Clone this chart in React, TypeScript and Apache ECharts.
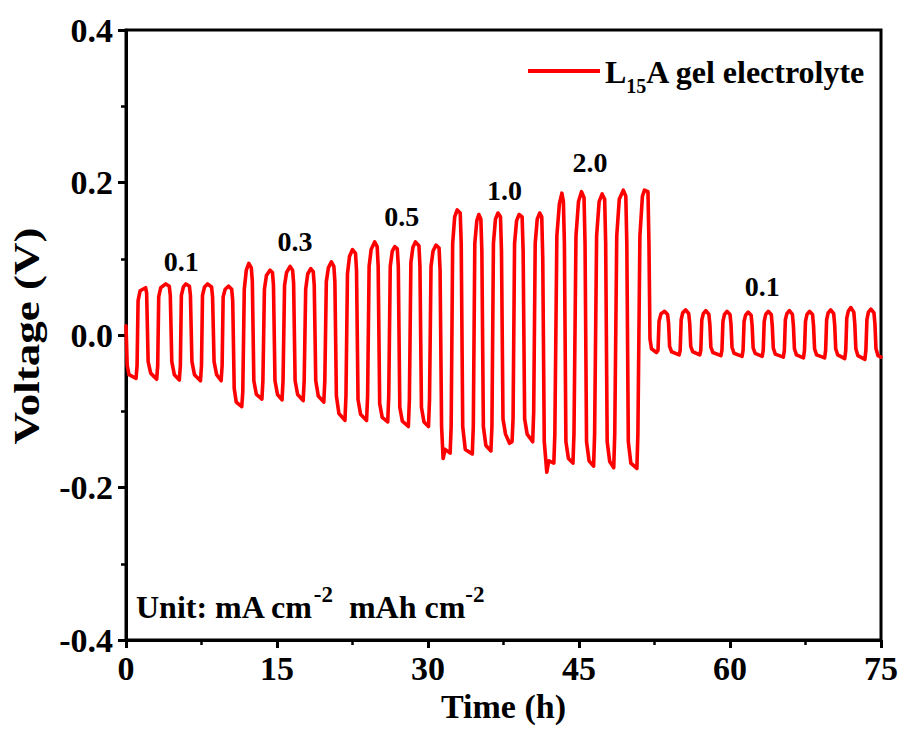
import React, { useEffect, useRef } from "react";
import * as echarts from "echarts";

// Time (h) / voltage (V) vertices of the galvanostatic cycling trace, grouped by current density step
const step01a: number[][] = [
  [0, 0.012], [0.12, -0.04], [0.3, -0.052], [1.0, -0.057],
  [1.1, -0.04], [1.2, 0.045], [1.4, 0.058], [1.95, 0.062], [2.05, 0.055], [2.2, -0.035], [2.45, -0.05], [3.05, -0.058],
  [3.15, -0.04], [3.25, 0.05], [3.45, 0.062], [3.95, 0.067], [4.3, 0.064], [4.4, 0.052], [4.55, -0.035], [4.8, -0.052], [5.3, -0.059],
  [5.4, -0.04], [5.5, 0.052], [5.7, 0.063], [5.95, 0.067], [6.3, 0.064], [6.4, 0.052], [6.55, -0.035], [6.8, -0.052], [7.4, -0.06],
  [7.5, -0.04], [7.6, 0.052], [7.8, 0.063], [8.1, 0.067], [8.5, 0.063], [8.6, 0.05], [8.75, -0.035], [9.0, -0.052], [9.45, -0.06],
  [9.55, -0.04], [9.65, 0.05], [9.85, 0.06], [10.2, 0.064], [10.5, 0.06], [10.6, 0.045], [10.75, -0.07], [10.95, -0.088], [11.5, -0.094],
];

const step03: number[][] = [
  [11.6, -0.075], [11.75, 0.06], [11.95, 0.085], [12.2, 0.094], [12.45, 0.088], [12.55, 0.07], [12.7, -0.06], [12.95, -0.078], [13.5, -0.084],
  [13.6, -0.06], [13.75, 0.06], [13.95, 0.078], [14.3, 0.085], [14.55, 0.082], [14.65, 0.065], [14.8, -0.06], [15.05, -0.078], [15.5, -0.085],
  [15.6, -0.06], [15.75, 0.065], [15.95, 0.082], [16.3, 0.09], [16.55, 0.085], [16.65, 0.068], [16.8, -0.06], [17.05, -0.078], [17.6, -0.086],
  [17.7, -0.06], [17.85, 0.06], [18.05, 0.08], [18.35, 0.087], [18.6, 0.083], [18.7, 0.065], [18.85, -0.06], [19.1, -0.08], [19.65, -0.088],
  [19.75, -0.06], [19.9, 0.07], [20.1, 0.088], [20.4, 0.096], [20.65, 0.09], [20.75, 0.07], [20.9, -0.08], [21.15, -0.103], [21.75, -0.112],
];

const step05: number[][] = [
  [21.85, -0.08], [22.0, 0.08], [22.2, 0.103], [22.5, 0.112], [22.8, 0.107], [22.9, 0.085], [23.05, -0.085], [23.3, -0.104], [23.9, -0.112],
  [24.0, -0.08], [24.15, 0.09], [24.35, 0.112], [24.7, 0.122], [24.95, 0.116], [25.05, 0.09], [25.2, -0.09], [25.45, -0.108], [26.0, -0.114],
  [26.1, -0.08], [26.25, 0.09], [26.45, 0.11], [26.7, 0.116], [26.95, 0.113], [27.05, 0.09], [27.2, -0.095], [27.45, -0.113], [28.05, -0.12],
  [28.15, -0.085], [28.3, 0.095], [28.5, 0.115], [28.75, 0.122], [29.1, 0.117], [29.2, 0.09], [29.35, -0.095], [29.6, -0.114], [30.05, -0.12],
  [30.15, -0.085], [30.3, 0.09], [30.5, 0.11], [30.8, 0.118], [31.1, 0.114], [31.2, 0.085], [31.35, -0.12], [31.5, -0.162], [31.7, -0.15], [32.2, -0.155],
];

const step10: number[][] = [
  [32.3, -0.12], [32.45, 0.12], [32.65, 0.155], [32.9, 0.164], [33.2, 0.16], [33.3, 0.12], [33.45, -0.12], [33.7, -0.15], [34.4, -0.156],
  [34.5, -0.12], [34.65, 0.12], [34.85, 0.15], [35.05, 0.158], [35.25, 0.152], [35.35, 0.11], [35.5, -0.12], [35.75, -0.145], [36.25, -0.152],
  [36.35, -0.12], [36.5, 0.12], [36.7, 0.152], [36.95, 0.16], [37.2, 0.155], [37.3, 0.11], [37.45, -0.11], [37.7, -0.13], [38.1, -0.142], [38.35, -0.14],
  [38.45, -0.11], [38.6, 0.12], [38.8, 0.15], [39.05, 0.158], [39.35, 0.155], [39.45, 0.11], [39.6, -0.11], [39.85, -0.13], [40.4, -0.14],
  [40.5, -0.1], [40.65, 0.12], [40.85, 0.152], [41.1, 0.16], [41.3, 0.155], [41.4, 0.1], [41.55, -0.14], [41.8, -0.18], [42.0, -0.165], [42.5, -0.168],
];

const step20: number[][] = [
  [42.6, -0.13], [42.8, 0.13], [43.05, 0.172], [43.3, 0.186], [43.45, 0.175], [43.55, 0.12], [43.7, -0.14], [43.95, -0.162], [44.4, -0.168],
  [44.5, -0.13], [44.7, 0.13], [44.95, 0.175], [45.25, 0.188], [45.5, 0.18], [45.6, 0.12], [45.75, -0.14], [46.0, -0.165], [46.45, -0.172],
  [46.55, -0.13], [46.75, 0.13], [47.0, 0.175], [47.3, 0.185], [47.55, 0.178], [47.65, 0.12], [47.8, -0.14], [48.05, -0.166], [48.45, -0.174],
  [48.55, -0.13], [48.75, 0.13], [49.0, 0.178], [49.4, 0.19], [49.65, 0.182], [49.75, 0.12], [49.9, -0.14], [50.15, -0.168], [50.75, -0.175],
  [50.85, -0.13], [51.05, 0.13], [51.3, 0.182], [51.5, 0.19], [51.85, 0.188], [51.95, 0.12], [52.05, -0.005], [52.2, -0.018], [52.7, -0.023],
];

const step01b: number[][] = [
  [52.85, -0.02], [52.95, 0.018], [53.15, 0.028], [53.5, 0.031], [53.8, 0.027], [53.9, 0.015], [54.0, -0.015], [54.2, -0.022], [54.95, -0.026],
  [55.05, -0.02], [55.15, 0.02], [55.3, 0.029], [55.6, 0.033], [55.9, 0.028], [56.0, 0.015], [56.1, -0.015], [56.3, -0.022], [57.0, -0.026],
  [57.1, -0.02], [57.2, 0.02], [57.35, 0.028], [57.6, 0.032], [57.9, 0.027], [58.0, 0.014], [58.1, -0.016], [58.3, -0.023], [59.1, -0.027],
  [59.2, -0.02], [59.3, 0.018], [59.45, 0.027], [59.7, 0.031], [60.0, 0.027], [60.1, 0.014], [60.2, -0.016], [60.4, -0.024], [61.2, -0.028],
  [61.3, -0.02], [61.4, 0.018], [61.55, 0.026], [61.8, 0.03], [62.1, 0.026], [62.2, 0.012], [62.3, -0.017], [62.5, -0.024], [63.2, -0.028],
  [63.3, -0.02], [63.4, 0.018], [63.55, 0.027], [63.8, 0.031], [64.1, 0.027], [64.2, 0.012], [64.3, -0.017], [64.5, -0.025], [65.3, -0.029],
  [65.4, -0.02], [65.5, 0.02], [65.65, 0.028], [65.9, 0.032], [66.2, 0.027], [66.3, 0.012], [66.4, -0.018], [66.6, -0.026], [67.3, -0.03],
  [67.4, -0.02], [67.5, 0.018], [67.65, 0.027], [67.9, 0.031], [68.2, 0.027], [68.3, 0.012], [68.4, -0.018], [68.6, -0.026], [69.4, -0.03],
  [69.5, -0.02], [69.6, 0.02], [69.75, 0.029], [70.0, 0.033], [70.3, 0.028], [70.4, 0.013], [70.5, -0.018], [70.7, -0.026], [71.4, -0.031],
  [71.5, -0.02], [71.6, 0.022], [71.75, 0.031], [72.0, 0.036], [72.3, 0.03], [72.4, 0.014], [72.5, -0.018], [72.7, -0.027], [73.4, -0.032],
  [73.5, -0.02], [73.6, 0.02], [73.75, 0.03], [74.0, 0.034], [74.3, 0.029], [74.4, 0.014], [74.5, -0.018], [74.7, -0.027], [75.0, -0.029],
];

// Current density annotations (mA cm-2) placed above each step
const stepLabels = ["0.1", "0.3", "0.5", "1.0", "2.0", "0.1"];
const stepLabelTime = [5.5, 16.8, 27.4, 37.6, 46.1, 63.2];
const stepLabelVolt = [0.096, 0.122, 0.155, 0.19, 0.226, 0.063];

const xTicks = { min: 0, max: 75, interval: 15 };
const yTicks = { min: -0.4, max: 0.4, interval: 0.2 };

const FONT = "'Liberation Serif', 'Times New Roman', serif";

export default function App() {
  const ref = useRef<HTMLDivElement>(null);

  useEffect(() => {
    if (!ref.current) return;
    const chart = echarts.init(ref.current, undefined, { renderer: "svg" });
    const trace = [...step01a, ...step03, ...step05, ...step10, ...step20, ...step01b];
    const labelData = stepLabels.map((name, i) => ({
      name,
      value: [stepLabelTime[i], stepLabelVolt[i]],
    }));

    const axisText = { fontFamily: FONT, fontWeight: "bold" as const, fontSize: 34, color: "#000" };

    chart.setOption({
      animation: false,
      backgroundColor: "#fff",
      grid: {
        left: 126,
        right: 21,
        top: 30,
        bottom: 91,
        show: true,
        borderColor: "#000",
        borderWidth: 3,
        backgroundColor: "transparent",
      },
      legend: {
        data: ["L15A gel electrolyte"],
        left: 528,
        top: 56,
        padding: 0,
        icon: "rect",
        itemWidth: 72,
        itemHeight: 4,
        itemGap: 8,
        formatter: () => "{b|L}{sub|15}{b|A gel electrolyte}",
        textStyle: {
          rich: {
            b: { fontFamily: FONT, fontWeight: "bold", fontSize: 32, color: "#000", lineHeight: 34, verticalAlign: "bottom" },
            sub: { fontFamily: FONT, fontWeight: "bold", fontSize: 20, color: "#000", lineHeight: 34, verticalAlign: "bottom", padding: [0, 0, -8, 0] },
          },
        },
      },
      xAxis: {
        type: "value",
        min: xTicks.min,
        max: xTicks.max,
        interval: xTicks.interval,
        name: "Time (h)",
        nameLocation: "middle",
        nameGap: 39,
        nameTextStyle: { ...axisText, fontSize: 34 },
        axisLine: { onZero: false, lineStyle: { color: "#000", width: 3 } },
        axisTick: { inside: false, length: 8, lineStyle: { color: "#000", width: 3 } },
        minorTick: { show: true, splitNumber: 2, length: 5, lineStyle: { color: "#000", width: 2.5 } },
        axisLabel: { ...axisText, margin: 11 },
        splitLine: { show: false },
      },
      yAxis: {
        type: "value",
        min: yTicks.min,
        max: yTicks.max,
        interval: yTicks.interval,
        axisLine: { onZero: false, lineStyle: { color: "#000", width: 3 } },
        axisTick: { inside: false, length: 8, lineStyle: { color: "#000", width: 3 } },
        minorTick: { show: true, splitNumber: 2, length: 5, lineStyle: { color: "#000", width: 2.5 } },
        axisLabel: { ...axisText, margin: 13, formatter: (v: number) => v.toFixed(1) },
        splitLine: { show: false },
      },
      graphic: [
        {
          // vertical axis title, drawn a little elongated along its reading direction
          type: "text",
          x: 27,
          y: 336,
          rotation: Math.PI / 2,
          scaleX: 1.25,
          style: {
            text: "Voltage (V)",
            fontFamily: FONT,
            fontWeight: "bold",
            fontSize: 36,
            fill: "#000",
            align: "center",
            verticalAlign: "middle",
          },
        },
        {
          type: "text",
          left: 136,
          top: 583,
          style: {
            text: "{b|Unit: mA cm}{sup|-2}{b|  mAh cm}{sup|-2}",
            rich: {
              b: { fontFamily: FONT, fontWeight: "bold", fontSize: 32, fill: "#000", lineHeight: 40, verticalAlign: "bottom" },
              sup: { fontFamily: FONT, fontWeight: "bold", fontSize: 23, fill: "#000", lineHeight: 40, verticalAlign: "top" },
            },
          },
        },
      ],
      series: [
        {
          name: "L15A gel electrolyte",
          type: "line",
          data: trace,
          showSymbol: false,
          symbol: "none",
          smooth: false,
          color: "#ff0000",
          lineStyle: { color: "#ff0000", width: 3.6, join: "round", cap: "round" },
          z: 3,
        },
        {
          name: "steps",
          type: "scatter",
          data: labelData,
          symbolSize: 0,
          silent: true,
          itemStyle: { opacity: 1, color: "#000" },
          label: {
            show: true,
            position: "inside",
            formatter: (p: any) => p.name,
            fontFamily: FONT,
            fontWeight: "bold",
            fontSize: 28,
            color: "#000",
            opacity: 1,
          },
          z: 4,
        },
      ],
    });
    return () => chart.dispose();
  }, []);

  return (
    <div
      ref={ref}
      style={{ position: "fixed", left: 0, top: 0, width: 902, height: 731, background: "#fff" }}
    />
  );
}
